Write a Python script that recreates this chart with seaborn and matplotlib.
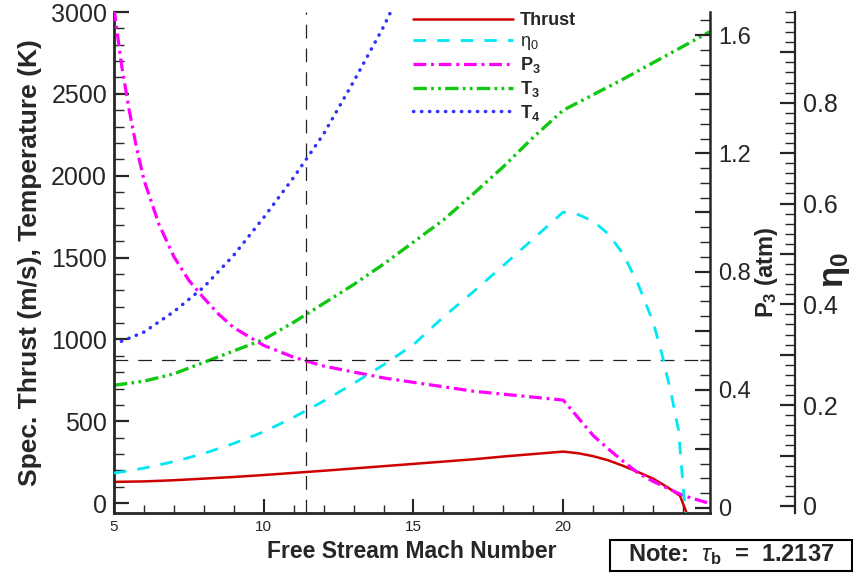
import matplotlib
matplotlib.use('Agg')
import matplotlib.pyplot as plt
from matplotlib.patches import Rectangle
from matplotlib.ticker import MultipleLocator, FuncFormatter
import seaborn as sns

# values
thrust_mach = [5, 6, 7, 8, 9, 10, 11, 12, 13, 14, 15, 16, 17, 18, 19, 20,
               20.5, 21, 21.5, 22, 22.5, 23, 23.5, 23.9, 24.12]
thrust = [130, 133, 140, 150, 160, 172, 185, 198, 212, 226, 240, 254, 268, 285, 300, 315,
          305, 287, 262, 228, 190, 150, 95, 45, -60]

eta_mach = [5, 6, 7, 8, 9, 10, 11, 12, 13, 14, 15, 16, 17, 18, 19, 20,
            20.5, 21, 21.5, 22, 22.5, 23, 23.3, 23.6, 23.85, 24.0, 24.1]
eta0 = [0.065, 0.075, 0.088, 0.104, 0.124, 0.147, 0.176, 0.208, 0.243, 0.28, 0.32, 0.375,
        0.425, 0.477, 0.53, 0.583, 0.578, 0.565, 0.54, 0.50, 0.44, 0.365, 0.30, 0.224,
        0.15, 0.04, -0.02]

p3_mach = [5, 5.25, 5.5, 5.75, 6, 6.5, 7, 7.5, 8, 8.5, 9, 10, 11, 12, 13, 14, 15, 16, 17,
           18, 19, 20, 20.5, 21, 21.5, 22, 22.5, 23, 23.5, 24, 24.5, 24.9]
p3 = [1.69, 1.50, 1.35, 1.22, 1.11, 0.96, 0.85, 0.77, 0.71, 0.655, 0.61, 0.55, 0.51, 0.48,
      0.46, 0.44, 0.425, 0.41, 0.395, 0.385, 0.375, 0.365, 0.305, 0.245, 0.20, 0.158,
      0.118, 0.09, 0.066, 0.042, 0.027, 0.015]

t3_mach = [5, 6, 7, 8, 9, 10, 11, 12, 13, 14, 15, 16, 17, 18, 19, 20, 21, 22, 23, 24, 24.9]
t3 = [720, 745, 790, 860, 930, 1000, 1105, 1220, 1335, 1460, 1595, 1730, 1890, 2055, 2235,
      2400, 2495, 2590, 2690, 2790, 2880]

t4_mach = [5, 6, 7, 8, 9, 10, 11, 12, 13, 14, 14.5]
t4 = [970, 1045, 1170, 1320, 1515, 1745, 1990, 2255, 2575, 2910, 3100]

design_mach = 11.4
design_p3 = 0.5

sns.set_style('ticks')
plt.rcParams['font.family'] = ['Liberation Sans', 'DejaVu Sans']
plt.rcParams['mathtext.fontset'] = 'custom'
plt.rcParams['mathtext.rm'] = 'Liberation Sans'
plt.rcParams['mathtext.it'] = 'Liberation Sans:italic'
plt.rcParams['mathtext.bf'] = 'Liberation Sans:bold'

fig = plt.figure(figsize=(8.54, 5.75), dpi=100)
ax = fig.add_axes([114 / 854, 62 / 575, 596 / 854, 501 / 575])
ax_p = ax.twinx()
ax_e = ax.twinx()
ax_e.spines['right'].set_position(('axes', (795 - 114) / 596))

sns.lineplot(x=thrust_mach, y=thrust, ax=ax, color='#d00000', lw=1.8, label='Thrust')
sns.lineplot(x=t3_mach, y=t3, ax=ax, color='#11c811', lw=2.4,
             linestyle=(0, (4, 1.3, 0.8, 1.3, 0.8, 1.3)), label=r'$\mathbf{T_3}$')
sns.lineplot(x=t4_mach, y=t4, ax=ax, color='#3030ff', lw=2.5,
             linestyle=(0, (0.1, 2.2)), dash_capstyle='round', label=r'$\mathbf{T_4}$')
sns.lineplot(x=p3_mach, y=p3, ax=ax_p, color='#ff00ff', lw=2.3,
             linestyle=(0, (4, 1.5, 0.9, 1.5)), label=r'$\mathbf{P_3}$')
sns.lineplot(x=eta_mach, y=eta0, ax=ax_e, color='#00e8f4', lw=2.0,
             linestyle=(0, (4.5, 4)), label=r'$\mathrm{\eta_0}$')

ax.axvline(design_mach, color='#222222', lw=0.9, dashes=(11, 8))
ax_p.axhline(design_p3, color='#222222', lw=0.9, dashes=(11, 8))

ax.set_xlim(5, 24.9)
ax.set_ylim(-60, 3000)
ax_p.set_ylim(-0.017, 1.678)
ax_e.set_ylim(-0.014, 0.98)

for a in (ax, ax_p, ax_e):
    a.spines['top'].set_visible(False)
    if a.get_legend():
        a.get_legend().remove()
ax.spines['right'].set_visible(False)
for a in (ax_p, ax_e):
    a.spines['left'].set_visible(False)
    a.spines['bottom'].set_visible(False)
ax.spines['left'].set_linewidth(2.0)
ax.spines['bottom'].set_linewidth(2.0)
ax_p.spines['right'].set_linewidth(1.8)
ax_e.spines['right'].set_linewidth(1.6)

ax.xaxis.set_major_locator(MultipleLocator(5))
ax.xaxis.set_minor_locator(MultipleLocator(1))
ax.yaxis.set_major_locator(MultipleLocator(500))
ax.yaxis.set_minor_locator(MultipleLocator(100))
ax_p.yaxis.set_major_locator(MultipleLocator(0.2))
ax_p.yaxis.set_minor_locator(MultipleLocator(0.05))
ax_p.yaxis.set_major_formatter(FuncFormatter(
    lambda v, pos: ('%g' % round(v, 1)) if abs(round(v / 0.4) - v / 0.4) < 1e-6 else ''))
ax_e.yaxis.set_major_locator(MultipleLocator(0.1))
ax_e.yaxis.set_minor_locator(MultipleLocator(0.02))
ax_e.yaxis.set_major_formatter(FuncFormatter(
    lambda v, pos: ('%g' % round(v, 1)) if abs(round(v / 0.2) - v / 0.2) < 1e-6 else ''))

ax.tick_params(axis='x', which='major', direction='in', length=10, width=1.5, labelsize=11, pad=5)
ax.tick_params(axis='x', which='minor', direction='in', length=6, width=1.0)
ax.tick_params(axis='y', which='major', direction='in', length=11, width=1.6, labelsize=18, pad=5)
ax.tick_params(axis='y', which='minor', direction='in', length=7, width=1.0)
ax_p.tick_params(axis='y', which='major', direction='in', length=11, width=1.6,
                 labelsize=17, pad=6)
ax_e.tick_params(axis='y', which='major', direction='in', length=11, width=1.6,
                 labelsize=18, pad=6)
for a in (ax_p, ax_e):
    a.tick_params(axis='y', which='minor', direction='in', length=7, width=1.0)

ax.set_xlabel('Free Stream Mach Number', fontsize=16.5, fontweight='bold')
ax.xaxis.set_label_coords(0.5, -0.054)
ax.set_ylabel('Spec. Thrust (m/s), Temperature (K)', fontsize=19, fontweight='bold')
ax.yaxis.set_label_coords(-0.141, 0.5)
ax.yaxis.label.set_va('center')
ax_p.set_ylabel(r'$\mathbf{P_3}$ (atm)', fontsize=17, fontweight='bold')
ax_p.yaxis.set_label_coords((767 - 114) / 596, 0.48)
ax_p.yaxis.label.set_va('center')
ax_e.set_ylabel(r'$\mathbf{\eta_0}$', fontsize=25)
ax_e.yaxis.set_label_coords((836 - 114) / 596, 0.485)
ax_e.yaxis.label.set_va('center')

handles = ax.get_lines()[:1] + ax_e.get_lines()[:1] + ax_p.get_lines()[:1] + ax.get_lines()[1:3]
labels = ['Thrust', r'$\mathrm{\eta_0}$', r'$\mathbf{P_3}$', r'$\mathbf{T_3}$', r'$\mathbf{T_4}$']
ax_e.legend(handles, labels, loc='upper left', bbox_to_anchor=(406 / 854, 1 - 5 / 575),
            bbox_transform=fig.transFigure, frameon=False, handlelength=5.5,
            handletextpad=0.4, labelspacing=0.2, borderaxespad=0,
            prop={'weight': 'bold', 'size': 13})

fig.patches.append(Rectangle((610 / 854, 4 / 575), 242 / 854, 31 / 575,
                             transform=fig.transFigure, fill=True, fc='white',
                             ec='black', lw=1.5))
fig.text(731 / 854, 20 / 575, r'Note:  $\tau_\mathbf{b}$  =  1.2137', ha='center', va='center',
         fontsize=17, fontweight='bold')

fig.savefig('out.png', dpi=100)
